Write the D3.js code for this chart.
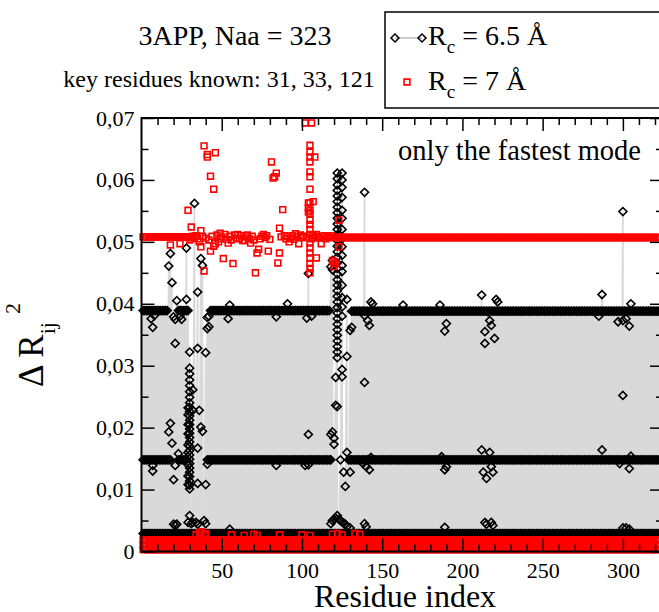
<!DOCTYPE html>
<html>
<head>
<meta charset="utf-8">
<script src="https://cdn.jsdelivr.net/npm/d3@7"></script>
<style>
  body { margin: 0; background: #fff; }
  svg { display: block; font-family: "Liberation Serif", "DejaVu Serif", serif; }
  text { font-family: "Liberation Serif", "DejaVu Serif", serif; }
</style>
</head>
<body>
<div id="chart"></div>
<script>
// ---- data ----
const nResidues = 323;
const xTicks = [50, 100, 150, 200, 250, 300];
const yTicks = [0, 0.01, 0.02, 0.03, 0.04, 0.05, 0.06, 0.07];
const yTickLabels = ["0", "0,01", "0,02", "0,03", "0,04", "0,05", "0,06", "0,07"];

// Rc = 6.5 A (black diamonds): flat plateaus as [first residue, last residue, value]
const blackTopRuns = [[1, 16, 0.0389], [23, 29, 0.0389], [43, 117, 0.0389], [131, 323, 0.0388]];
const blackMidRuns = [[1, 18, 0.0148], [23, 28, 0.0148], [41, 118, 0.0148], [129, 323, 0.0148]];
const blackLowRuns = [[1, 323, 0.0029]];
// single diamonds off the plateaus: [residue, value]
const blackPoints = [
  [6, 0.0376], [7, 0.0362], [7, 0.0130], [7, 0.0139], [8, 0.0381],
  [17, 0.0461], [18, 0.0481], [19, 0.0434], [18, 0.0207], [17, 0.0193], [19, 0.0175],
  [20, 0.0379], [20, 0.0116], [21, 0.0336], [21, 0.0139], [21, 0.0375], [22, 0.0405],
  [23, 0.0158], [25, 0.0375], [24, 0.0380], [28, 0.0490], [28, 0.0407],
  [30, 0.0322], [33, 0.0562], [32, 0.0261], [32, 0.0228], [35, 0.0419], [35, 0.0328],
  [35, 0.0167], [35, 0.0110], [36, 0.0228], [37, 0.0473], [37, 0.0201], [38, 0.0462],
  [38, 0.0194], [40, 0.0321], [40, 0.0108], [41, 0.0360], [41, 0.0378], [41, 0.0141],
  [42, 0.0363], [42, 0.0380],
  [54, 0.0376], [55, 0.0398], [84, 0.0379], [84, 0.0139], [91, 0.0400],
  [102, 0.0139], [103, 0.0377], [104, 0.0189], [104, 0.0449], [104, 0.0140], [106, 0.0380],
  [118, 0.0460], [119, 0.0455], [119, 0.0470], [119, 0.0193], [118, 0.0189], [120, 0.0173],
  [120, 0.0183], [121, 0.0281], [121, 0.0236], [122, 0.0234], [124, 0.0148], [125, 0.0294],
  [125, 0.0282], [126, 0.0128], [127, 0.0105], [128, 0.0315], [128, 0.0160], [128, 0.0407],
  [130, 0.0128], [130, 0.0357], [131, 0.0362],
  [138, 0.0142], [139, 0.0580], [139, 0.0273], [139, 0.0381], [140, 0.0137], [141, 0.0373],
  [142, 0.0365], [142, 0.0132], [143, 0.0403], [143, 0.0152], [144, 0.0400],
  [163, 0.0398], [186, 0.0398], [187, 0.0153], [189, 0.0356], [189, 0.0132], [190, 0.0368],
  [190, 0.0137],
  [212, 0.0414], [212, 0.0164], [213, 0.0128], [214, 0.0355], [214, 0.0336], [215, 0.0118],
  [216, 0.0387], [217, 0.0373], [217, 0.0160], [218, 0.0365], [218, 0.0137], [219, 0.0128],
  [220, 0.0344], [221, 0.0407], [222, 0.0403],
  [285, 0.0380], [287, 0.0415], [287, 0.0164], [297, 0.0371], [298, 0.0142], [300, 0.0549],
  [300, 0.0252], [300, 0.0373], [302, 0.0376], [304, 0.0364], [304, 0.0134], [305, 0.0400],
  [305, 0.0154],
  [20, 0.0044], [21, 0.0042], [22, 0.0044], [29, 0.0047], [30, 0.0058], [31, 0.0045],
  [32, 0.0047], [34, 0.0047], [35, 0.0044], [39, 0.0050], [40, 0.0045], [55, 0.0036],
  [118, 0.0045], [119, 0.0050], [120, 0.0052], [121, 0.0054], [122, 0.0058], [123, 0.0052],
  [124, 0.0050], [125, 0.0048], [126, 0.0046], [127, 0.0044], [128, 0.0040], [130, 0.0038],
  [139, 0.0045], [140, 0.0040], [189, 0.0039], [214, 0.0047], [215, 0.0044], [218, 0.0047],
  [219, 0.0042], [300, 0.0038], [302, 0.0038], [304, 0.0036]
];
// dense columns at the key residues
const blackColumn30 = [0.0296, 0.0287, 0.0277, 0.0268, 0.0258, 0.0249, 0.0240, 0.0233, 0.0226,
  0.0219, 0.0212, 0.0205, 0.0198, 0.0191, 0.0184, 0.0177, 0.0170, 0.0163, 0.0156, 0.0149,
  0.0142, 0.0135, 0.0128, 0.0121, 0.0114, 0.0107, 0.0101];
const blackColumn29 = [0.0232, 0.0221, 0.0205, 0.0190, 0.0172, 0.0160, 0.0140, 0.0122, 0.0108];
const blackColumn122 = [0.0611, 0.0602, 0.0592, 0.0583, 0.0574, 0.0565, 0.0556, 0.0547, 0.0538,
  0.0529, 0.0520, 0.0511, 0.0502, 0.0493, 0.0484, 0.0475, 0.0466, 0.0457, 0.0448, 0.0439,
  0.0430, 0.0421, 0.0412, 0.0403, 0.0394, 0.0385, 0.0376, 0.0367, 0.0358, 0.0349, 0.0340,
  0.0331, 0.0322, 0.0313];
const blackColumn125 = [0.0611, 0.0600, 0.0588, 0.0572, 0.0551, 0.0538, 0.0520, 0.0505,
  0.0492, 0.0478, 0.0462, 0.0452, 0.0430, 0.0410, 0.0395, 0.0380];

// Rc = 7 A (red squares)
const redTopRuns = [[1, 30, 0.0508], [120, 323, 0.0507]];
const redLowRuns = [[1, 323, 0.0003], [1, 323, 0.0011], [1, 323, 0.0019]];
// the looser stretch of the upper red band between residues 31 and 118
const redMidPoints = [
  [31, 0.0506], [32, 0.0509], [33, 0.0507], [34, 0.0510], [35, 0.0505], [38, 0.0509],
  [40, 0.0506], [42, 0.0503], [44, 0.0509], [46, 0.0497], [47, 0.0511], [49, 0.0505],
  [50, 0.0508], [52, 0.0512], [53, 0.0504], [55, 0.0509], [56, 0.0503], [58, 0.0511],
  [59, 0.0506], [61, 0.0505], [62, 0.0510], [63, 0.0502], [65, 0.0508], [66, 0.0511],
  [67, 0.0505], [69, 0.0509], [70, 0.0503], [74, 0.0505], [75, 0.0509], [77, 0.0507],
  [78, 0.0510], [80, 0.0504], [87, 0.0508], [89, 0.0510], [90, 0.0505], [91, 0.0509],
  [93, 0.0506], [94, 0.0510], [95, 0.0504], [97, 0.0508], [99, 0.0511], [100, 0.0507],
  [101, 0.0509], [103, 0.0507], [106, 0.0505], [107, 0.0510], [108, 0.0507], [110, 0.0509],
  [111, 0.0506], [113, 0.0508], [114, 0.0510], [115, 0.0505], [116, 0.0509], [117, 0.0507],
  [118, 0.0510]
];
const redPoints = [
  [18, 0.0495], [24, 0.0497], [29, 0.0551], [30, 0.0503], [31, 0.0524], [36, 0.0500],
  [37, 0.0518], [37, 0.0492], [39, 0.0453], [39, 0.0655], [41, 0.0637], [41, 0.0641],
  [46, 0.0644], [43, 0.0606], [45, 0.0585], [43, 0.0485], [45, 0.0493], [48, 0.0500],
  [49, 0.0514], [51, 0.0473], [54, 0.0498], [57, 0.0465], [60, 0.0512], [64, 0.0502],
  [68, 0.0498], [71, 0.0450], [72, 0.0482], [73, 0.0488], [76, 0.0512], [79, 0.0485],
  [81, 0.0629], [82, 0.0603], [83, 0.0605], [84, 0.0611], [85, 0.0466], [86, 0.0482],
  [86, 0.0522], [88, 0.0552], [92, 0.0500], [96, 0.0513], [98, 0.0497],
  [102, 0.0692], [106, 0.0692],
  [105, 0.0656], [105, 0.0645], [105, 0.0637], [105, 0.0629], [105, 0.0613], [105, 0.0605],
  [105, 0.0585], [105, 0.0563], [105, 0.0551], [105, 0.0545], [105, 0.0535], [105, 0.0528],
  [105, 0.0520], [105, 0.0512], [105, 0.0498], [105, 0.0490], [105, 0.0482], [105, 0.0474],
  [105, 0.0465], [105, 0.0457], [105, 0.0450], [104, 0.0563], [104, 0.0555], [104, 0.0548],
  [108, 0.0637], [107, 0.0565], [109, 0.0474], [109, 0.0512], [112, 0.0497],
  [119, 0.0470], [120, 0.0468], [120, 0.0460], [121, 0.0465], [123, 0.0535], [123, 0.0492],
  [34, 0.0027], [36, 0.0030], [37, 0.0032], [39, 0.0027], [40, 0.0029], [56, 0.0027],
  [64, 0.0026], [70, 0.0028], [72, 0.0026], [86, 0.0027], [100, 0.0027], [105, 0.0026],
  [119, 0.0028], [122, 0.0029], [125, 0.0027], [133, 0.0029], [136, 0.0028]
];

// ---- build the two series ----
function expand(runs) {
  const out = [];
  runs.forEach(([a, b, v]) => { for (let r = a; r <= b; r++) out.push([r, v]); });
  return out;
}
const blackData = expand(blackTopRuns).concat(expand(blackMidRuns), expand(blackLowRuns), blackPoints,
  blackColumn30.map(v => [30, v]), blackColumn29.map(v => [29, v]),
  blackColumn122.map(v => [122, v]), blackColumn125.map(v => [125, v]))
  .filter(d => d[0] <= nResidues)
  .sort((a, b) => a[0] - b[0] || b[1] - a[1]);
const redData = expand(redTopRuns).concat(expand(redLowRuns), redMidPoints, redPoints);

// ---- chart ----
const svg = d3.select("#chart").append("svg")
  .attr("width", 659)
  .attr("height", 612);

const margin = {top: 118, right: -4, bottom: 60, left: 141.5},
  width = 659 - margin.left - margin.right,
  height = 551.5 - margin.top;

const x = d3.scaleLinear().domain([0, 325]).range([0, width]);
const y = d3.scaleLinear().domain([0, 0.07]).range([height, 0]);

const g = svg.append("g")
  .attr("transform", "translate(" + margin.left + "," + margin.top + ")");

// grey connecting line of the black set
g.append("path")
  .datum(blackData)
  .attr("fill", "none")
  .attr("stroke", "#d9d9d9")
  .attr("stroke-width", 1.8)
  .attr("d", d3.line().x(d => x(d[0])).y(d => y(d[1])));

const diamond = d3.symbol(d3.symbolSquare, 32);
const square = d3.symbol(d3.symbolSquare, 34);

g.selectAll(".bpt")
  .data(blackData)
  .enter().append("path")
  .attr("class", "bpt")
  .attr("d", diamond)
  .attr("transform", d => "translate(" + x(d[0]) + "," + y(d[1]) + ") rotate(45)")
  .attr("fill", "none")
  .attr("stroke", "#000")
  .attr("stroke-width", 1.6);

g.selectAll(".rpt")
  .data(redData)
  .enter().append("path")
  .attr("class", "rpt")
  .attr("d", square)
  .attr("transform", d => "translate(" + x(d[0]) + "," + y(d[1]) + ")")
  .attr("fill", "none")
  .attr("stroke", "#ff0000")
  .attr("stroke-width", 1.6);

// frame
g.append("rect")
  .attr("width", width)
  .attr("height", height)
  .attr("fill", "none")
  .attr("stroke", "#000")
  .attr("stroke-width", 2);

const minorX = d3.range(10, 330, 10).filter(v => v % 50 !== 0);
const minorY = d3.range(0.005, 0.07, 0.01);

function ticks(axis, t, offset, size) {
  const a = g.append("g")
    .attr("transform", offset)
    .call(axis.tickValues(t).tickSize(size).tickFormat(""));
  a.select(".domain").remove();
  a.selectAll("line").attr("stroke-width", 1.5);
}
ticks(d3.axisBottom(x), xTicks, "translate(0," + height + ")", -13);
ticks(d3.axisBottom(x), minorX, "translate(0," + height + ")", -7);
ticks(d3.axisTop(x), xTicks, "translate(0,0)", -13);
ticks(d3.axisTop(x), minorX, "translate(0,0)", -7);
ticks(d3.axisLeft(y), yTicks, "translate(0,0)", -13);
ticks(d3.axisLeft(y), minorY, "translate(0,0)", -7);
ticks(d3.axisRight(y), yTicks, "translate(" + width + ",0)", -13);
ticks(d3.axisRight(y), minorY, "translate(" + width + ",0)", -7);

// tick labels
const xl = g.append("g")
  .attr("transform", "translate(0," + height + ")")
  .call(d3.axisBottom(x).tickValues(xTicks).tickSize(0).tickPadding(11));
xl.select(".domain").remove();
xl.selectAll("text").style("font-size", "22px").style("font-family", "Liberation Serif").attr("fill", "#000");

const yl = g.append("g")
  .call(d3.axisLeft(y).tickValues(yTicks).tickSize(0).tickPadding(7)
    .tickFormat((d, i) => yTickLabels[i]));
yl.select(".domain").remove();
yl.selectAll("text").style("font-size", "22px").style("font-family", "Liberation Serif").attr("fill", "#000");

// axis titles
svg.append("text")
  .attr("x", 405)
  .attr("y", 607)
  .attr("text-anchor", "middle")
  .style("font-size", "32px")
  .text("Residue index");

const yt = svg.append("text")
  .attr("transform", "translate(43,387) rotate(-90)")
  .style("font-size", "35px");
yt.append("tspan").text("\u0394 R");
yt.append("tspan").attr("dy", 12).style("font-size", "22px").text("ij");
yt.append("tspan").attr("dx", 8).attr("dy", -35).style("font-size", "22px").text("2");

// titles
svg.append("text")
  .attr("x", 235).attr("y", 45)
  .attr("text-anchor", "middle")
  .style("font-size", "28px")
  .text("3APP, Naa = 323");
svg.append("text")
  .attr("x", 219).attr("y", 87)
  .attr("text-anchor", "middle")
  .style("font-size", "24px")
  .text("key residues known: 31, 33, 121");
svg.append("text")
  .attr("x", 398).attr("y", 160)
  .style("font-size", "28.5px")
  .text("only the fastest mode");

// legend
const legend = svg.append("g");
legend.append("rect")
  .attr("x", 385).attr("y", 12)
  .attr("width", 300).attr("height", 96)
  .attr("fill", "#fff")
  .attr("stroke", "#000")
  .attr("stroke-width", 1.5);
legend.append("line")
  .attr("x1", 395).attr("x2", 422).attr("y1", 38).attr("y2", 38)
  .attr("stroke", "#bbb").attr("stroke-width", 1.5);
[395, 422].forEach(px => legend.append("path")
  .attr("d", diamond)
  .attr("transform", "translate(" + px + ",38) rotate(45)")
  .attr("fill", "none").attr("stroke", "#000").attr("stroke-width", 1.5));
legend.append("path")
  .attr("d", square)
  .attr("transform", "translate(407,82)")
  .attr("fill", "none").attr("stroke", "#ff0000").attr("stroke-width", 1.6);

function legendLabel(yBase, rest) {
  const t = legend.append("text").attr("x", 428).attr("y", yBase).style("font-size", "28px");
  t.append("tspan").text("R");
  t.append("tspan").attr("dy", 8).style("font-size", "19px").text("c");
  t.append("tspan").attr("dy", -8).text(" = " + rest);
}
legendLabel(45, "6.5 \u00c5");
legendLabel(90, "7 \u00c5");
</script>
</body>
</html>
